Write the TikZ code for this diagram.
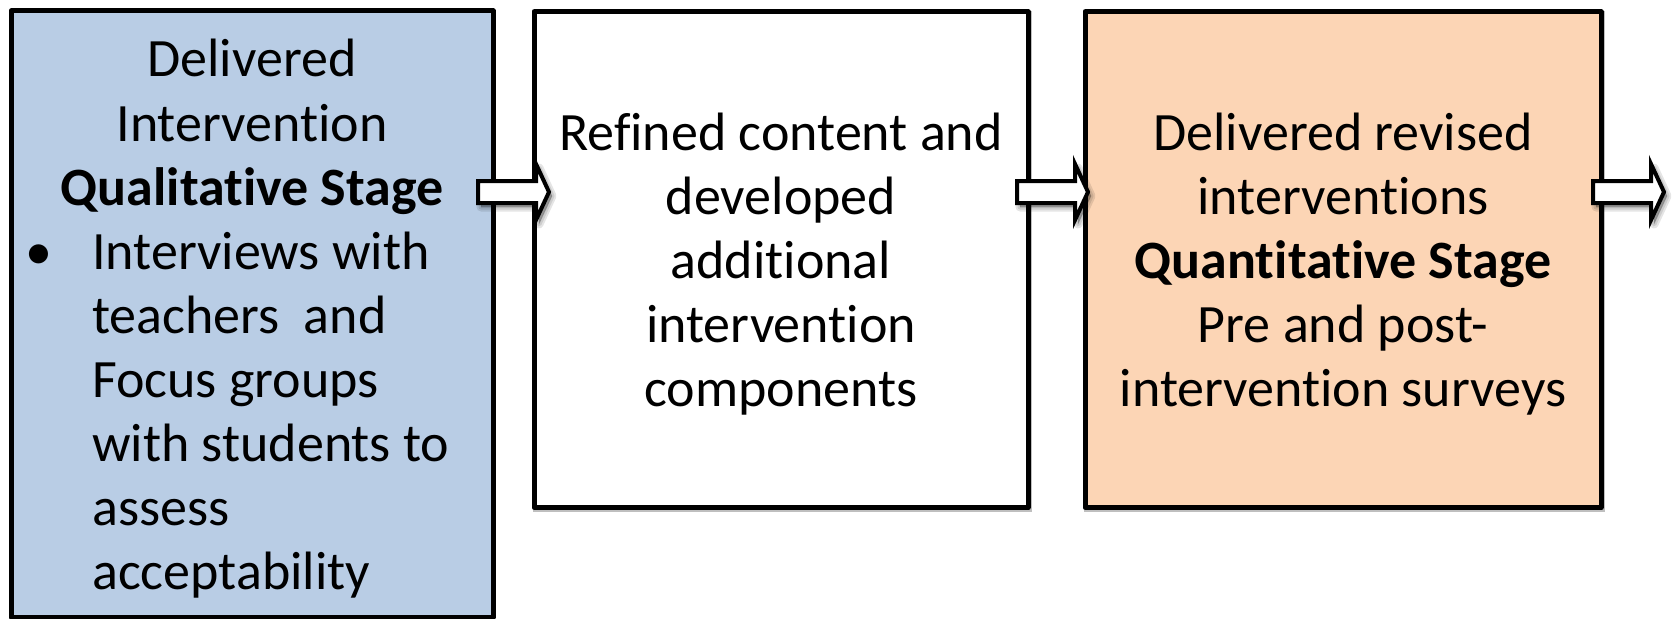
\documentclass[tikz,border=0pt]{standalone}
\usepackage{fontspec}
\setmainfont{Carlito}[Ligatures=NoCommon]
\usetikzlibrary{calc}
\definecolor{qualblue}{HTML}{B9CDE5}
\definecolor{quanpeach}{HTML}{FCD5B5}
\tikzset{
  stagebox/.style={draw=black, line width=5pt, rectangle, inner sep=0pt, outer sep=0pt, line join=round},
  boxshadow/.style={draw=black!25, line width=5pt, rectangle, inner sep=0pt, outer sep=0pt},
  txt/.style={font=\fontsize{54}{64}\selectfont, inner sep=0pt, anchor=base},
  btxt/.style={txt, font=\fontsize{54}{64}\selectfont\bfseries},
  blockarrow/.style={draw=black, fill=white, line width=4pt, line join=miter},
  arrowshadow/.style={draw=black, fill=black, opacity=0.1, line join=round},
  pics/blkarrow/.style={code={
    \path[pic actions] (0,-11) -- (58,-11) -- (58,-28) -- (71,0) -- (58,28) -- (58,11) -- (0,11) -- cycle;
  }},
}
\begin{document}
\begin{tikzpicture}[x=1pt,y=-1pt]
\useasboundingbox[fill=white] (0,0) rectangle (1672,618);

% box shadows
\node[boxshadow, minimum width=494pt, minimum height=496pt] (s2) at (782.5,261.2) {};
\node[boxshadow, minimum width=516pt, minimum height=496pt] (s3) at (1344.5,261.2) {};

% boxes
\node[stagebox, fill=qualblue, minimum width=482pt, minimum height=606pt] (qual) at (252,314) {};
\node[stagebox, fill=white, minimum width=494pt, minimum height=496pt] (refine) at (781,259.7) {};
\node[stagebox, fill=quanpeach, minimum width=516pt, minimum height=496pt] (quan) at (1343,259.7) {};

% box 1 text
\node[txt] (q1) at (252,77) {Delivered};
\node[txt] (q2) at (252,141) {Intervention};
\node[btxt] (q3) at (252,205) {Qualitative Stage};
\node[txt] (qb) at (39,269) {\textbullet};
\node[txt, anchor=base west] (q4) at (92,269) {Interviews with};
\node[txt, anchor=base west] (q5) at (92,333) {teachers\ \ and};
\node[txt, anchor=base west] (q6) at (92,397) {Focus groups};
\node[txt, anchor=base west] (q7) at (92,461) {with students to};
\node[txt, anchor=base west] (q8) at (92,525) {assess};
\node[txt, anchor=base west] (q9) at (92,589) {acceptability};

% box 2 text
\node[txt] (r1) at (781,150) {Refined content and};
\node[txt] (r2) at (781,214) {developed};
\node[txt] (r3) at (781,278) {additional};
\node[txt] (r4) at (781,342) {intervention};
\node[txt] (r5) at (781,406) {components};

% box 3 text
\node[txt] (p1) at (1343,150) {Delivered revised};
\node[txt] (p2) at (1343,214) {interventions};
\node[btxt] (p3) at (1343,278) {Quantitative Stage};
\node[txt] (p4) at (1343,342) {Pre and post-};
\node[txt] (p5) at (1343,406) {intervention surveys};

% arrows
\coordinate (a1) at (478,192);
\coordinate (a2) at (1017,192);
\coordinate (a3) at (1593,192);
\foreach \a in {a1,a2,a3}{
  \pic[arrowshadow, line width=9pt] at ($(\a)+(3,4)$) {blkarrow};
  \pic[arrowshadow, line width=5pt] at ($(\a)+(3,4)$) {blkarrow};
  \pic[arrowshadow, line width=1pt] at ($(\a)+(3,4)$) {blkarrow};
  \pic[blockarrow] at (\a) {blkarrow};
}
\end{tikzpicture}
\end{document}
